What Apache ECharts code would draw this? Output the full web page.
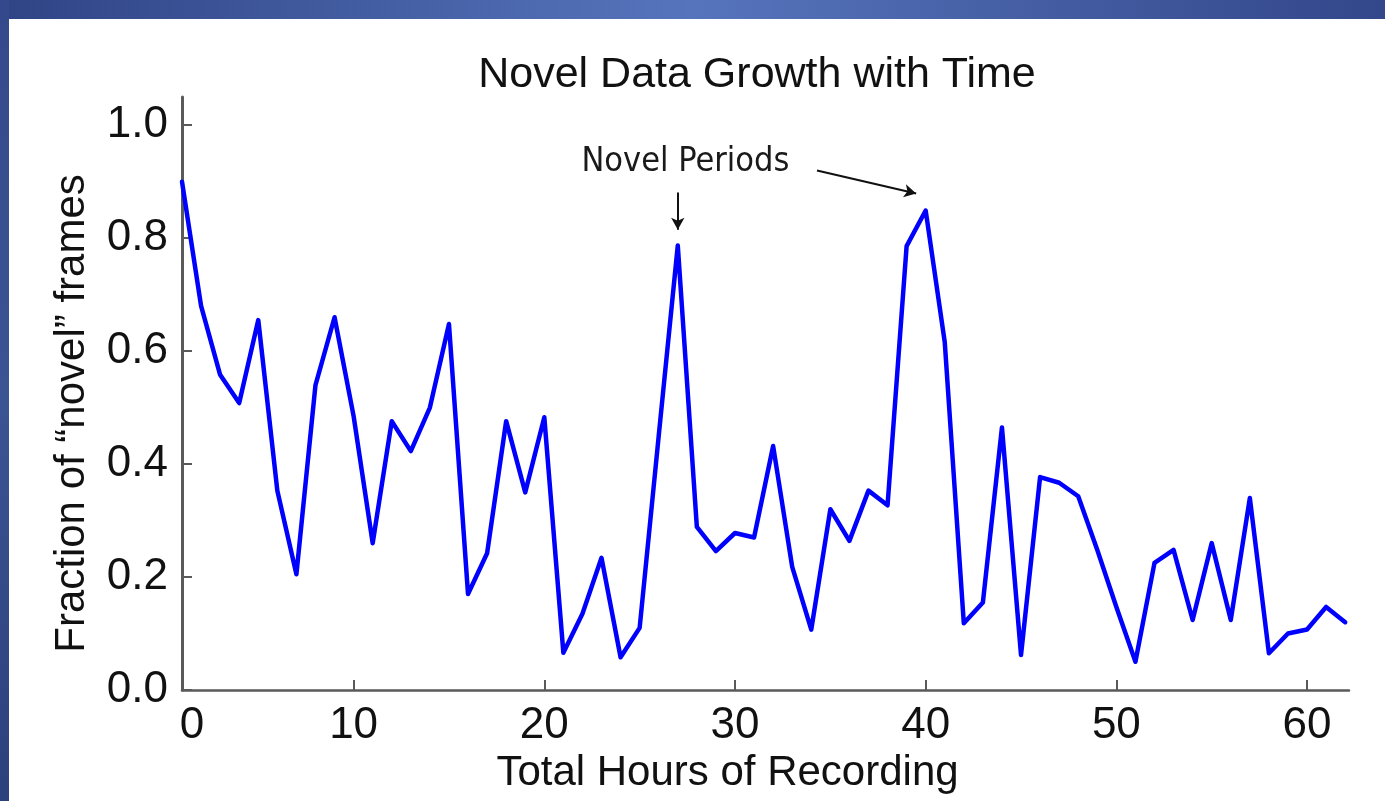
<!DOCTYPE html>
<html>
<head>
<meta charset="utf-8">
<style>
html,body{margin:0;padding:0;background:#fff;}
#chart{width:1385px;height:801px;}
</style>
<script src="https://cdn.jsdelivr.net/npm/echarts@6/dist/echarts.min.js"></script>
</head>
<body>
<div id="chart"></div>
<script>
// ---- data ----
var hours = [1,2,3,4,5,6,7,8,9,10,11,12,13,14,15,16,17,18,19,20,21,22,23,24,25,26,27,28,29,30,31,32,33,34,35,36,37,38,39,40,41,42,43,44,45,46,47,48,49,50,51,52,53,54,55,56,57,58,59,60,61,62];
var novelFraction = [
  0.90, 0.68, 0.558, 0.508, 0.655, 0.353, 0.205, 0.54, 0.66, 0.485,
  0.26, 0.476, 0.423, 0.50, 0.648, 0.17, 0.242, 0.476, 0.35, 0.483,
  0.066, 0.135, 0.234, 0.058, 0.11, 0.45, 0.787, 0.289, 0.246, 0.278,
  0.27, 0.432, 0.218, 0.107, 0.32, 0.264, 0.353, 0.327, 0.786, 0.849,
  0.616, 0.118, 0.155, 0.465, 0.062, 0.377, 0.367, 0.343, 0.248, 0.147,
  0.05, 0.225, 0.248, 0.124, 0.26, 0.124, 0.34, 0.065, 0.10, 0.107,
  0.147, 0.12
];
var xTickValues = [10, 20, 30, 40, 50, 60];
var xLabelValues = [1, 10, 20, 30, 40, 50, 60];
var yTickValues = [0, 0.2, 0.4, 0.6, 0.8, 1.0];
var titleText = 'Novel Data Growth with Time';
var xName = 'Total Hours of Recording';
var yName = 'Fraction of \u201Cnovel\u201D frames';
var annotationText = 'Novel Periods';
// annotation anchor points in data space
var annotationLabelAt = [27.4, 0.934];
var arrow1 = [[27, 0.881], [27, 0.815]];
var arrow2 = [[34.3, 0.920], [39.5, 0.879]];

var seriesData = hours.map(function (h, i) { return [h, novelFraction[i]]; });

// pick a narrow font for the x tick labels if one is installed
function fontAvailable(name) {
  var c = document.createElement('canvas').getContext('2d');
  c.font = '100px monospace';
  var a = c.measureText('0123456789 Hg').width;
  c.font = '100px "' + name + '", monospace';
  var b = c.measureText('0123456789 Hg').width;
  return a !== b;
}
var narrowOk = fontAvailable('Liberation Sans Narrow');
var xLabelFont = narrowOk ? '"Liberation Sans Narrow", "Liberation Sans", sans-serif' : '"Liberation Sans", Arial, sans-serif';
var xLabelSize = narrowOk ? 50 : 44;

var chart = echarts.init(document.getElementById('chart'), null, {renderer: 'canvas'});
var axisColor = '#5a5a5a';
var option = {
  animation: false,
  backgroundColor: '#ffffff',
  graphic: [
    {
      type: 'rect', z: -10, silent: true,
      shape: {x: 0, y: 0, width: 1385, height: 19},
      style: {fill: new echarts.graphic.LinearGradient(0, 0, 1, 0, [
        {offset: 0, color: '#2f4485'},
        {offset: 0.5, color: '#5674bc'},
        {offset: 1, color: '#33478a'}
      ])}
    },
    {
      type: 'rect', z: -10, silent: true,
      shape: {x: 0, y: 0, width: 9, height: 801},
      style: {fill: new echarts.graphic.LinearGradient(0, 0, 0, 1, [
        {offset: 0, color: '#34498b'},
        {offset: 0.5, color: '#3b5494'},
        {offset: 1, color: '#2c417c'}
      ])}
    }
  ],
  title: {
    text: titleText,
    left: 757,
    top: 54,
    textAlign: 'center',
    padding: 0,
    textStyle: {
      fontFamily: 'Liberation Sans, Arial, sans-serif',
      fontSize: 43,
      fontWeight: 'normal',
      color: '#111'
    }
  },
  grid: {left: 182, right: 36, top: 97, bottom: 111, containLabel: false},
  xAxis: {
    type: 'value',
    min: 1,
    max: 62.2,
    name: xName,
    nameLocation: 'middle',
    nameGap: 47,
    nameTextStyle: {
      fontFamily: 'Liberation Sans, Arial, sans-serif',
      fontSize: 42,
      color: '#111',
      padding: [0, 76, 0, 0]
    },
    axisLine: {show: true, onZero: false, lineStyle: {color: axisColor, width: 2.5}},
    axisTick: {show: true, inside: true, length: 10, customValues: xTickValues, lineStyle: {color: axisColor, width: 2}},
    axisLabel: {
      show: true,
      margin: 14,
      customValues: xLabelValues,
      fontFamily: xLabelFont,
      fontSize: xLabelSize,
      color: '#111',
      formatter: function (v) { return v === 1 ? '{z|0}' : String(v); },
      rich: {z: {fontFamily: xLabelFont, fontSize: xLabelSize, color: '#111', padding: [0, 0, 0, 20]}}
    },
    splitLine: {show: false}
  },
  yAxis: {
    type: 'value',
    min: 0,
    max: 1.05,
    name: yName,
    nameLocation: 'middle',
    nameRotate: 90,
    nameGap: 89,
    nameTextStyle: {
      fontFamily: 'Liberation Sans, Arial, sans-serif',
      fontSize: 42,
      color: '#111',
      padding: [0, 40, 0, 0]
    },
    axisLine: {show: true, onZero: false, lineStyle: {color: axisColor, width: 3}},
    axisTick: {show: true, inside: true, length: 10, customValues: yTickValues, lineStyle: {color: axisColor, width: 2}},
    axisLabel: {
      show: true,
      margin: 14,
      customValues: yTickValues,
      fontFamily: 'Liberation Sans, Arial, sans-serif',
      fontSize: 44,
      color: '#111',
      formatter: function (v) { return v.toFixed(1); }
    },
    splitLine: {show: false}
  },
  series: [{
    type: 'line',
    data: seriesData,
    symbol: 'none',
    lineStyle: {color: '#0000ff', width: 4.5, join: 'round', cap: 'round'},
    markLine: {
      silent: true,
      symbol: ['none', 'arrow'],
      symbolSize: [10, 12],
      label: {show: false},
      lineStyle: {color: '#111', width: 2, type: 'solid'},
      data: [
        [{coord: arrow1[0]}, {coord: arrow1[1]}],
        [{coord: arrow2[0]}, {coord: arrow2[1]}]
      ]
    },
    markPoint: {
      silent: true,
      symbol: 'circle',
      symbolSize: 1,
      itemStyle: {color: 'rgba(0,0,0,0)'},
      label: {
        show: true,
        position: 'inside',
        formatter: annotationText,
        fontFamily: 'DejaVu Sans Condensed, Liberation Sans Narrow, Liberation Sans, sans-serif',
        fontSize: 34,
        color: '#1a1a1a'
      },
      data: [{coord: annotationLabelAt}]
    }
  }]
};
chart.setOption(option);
</script>
</body>
</html>
